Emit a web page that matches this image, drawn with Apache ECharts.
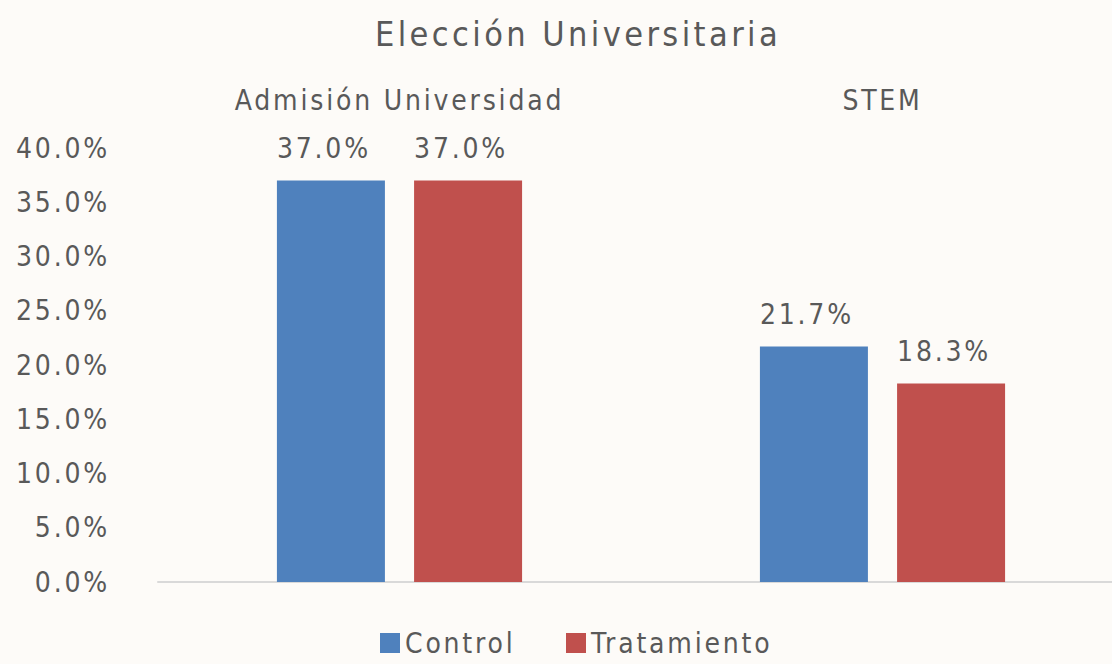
<!DOCTYPE html>
<html>
<head>
<meta charset="utf-8">
<script src="https://cdn.jsdelivr.net/npm/echarts@6/dist/echarts.min.js"></script>
<style>
	html, body { margin: 0; padding: 0; background: #fdfbf8; }
	#chart { width: 1112px; height: 664px; }
	#chart text { letter-spacing: 0.1em; }
</style>
</head>
<body>
<div id="chart"></div>
<script>
const categories = ['Admisión Universidad', 'STEM']
const controlValues = [37.0, 21.7]
const treatmentValues = [37.0, 18.3]
const yTicks = [0, 5, 10, 15, 20, 25, 30, 35, 40]

const FONT = "'DejaVu Sans Condensed', 'Liberation Sans Narrow', sans-serif"
const TEXT = '#595959'

var chart = echarts.init(document.getElementById('chart'), null, { renderer: 'svg' })

var labelStyle = {
	show: true,
	position: 'top',
	distance: 18,
	offset: [-7, 0],
	fontFamily: FONT,
	fontSize: 28,
	color: TEXT,
	formatter: (p) => p.value.toFixed(1) + '%',
}

var option = {
	backgroundColor: '#fdfbf8',
	animation: false,
	title: {
		text: 'Elección Universitaria',
		left: 370,
		top: 12,
		textStyle: { fontFamily: FONT, fontSize: 34, fontWeight: 'normal', color: TEXT },
	},
	legend: {
		top: 624,
		left: 375,
		icon: 'rect',
		itemWidth: 20,
		itemHeight: 20,
		itemGap: 70,
		textStyle: { fontFamily: FONT, fontSize: 28, color: TEXT },
		data: ['Control', 'Tratamiento'],
	},
	grid: { left: 158, top: 148, width: 966, height: 434, outerBoundsMode: 'none' },
	xAxis: [
		{
			type: 'category',
			data: categories,
			position: 'bottom',
			axisLine: { lineStyle: { color: '#d9d9d9', width: 2 } },
			axisTick: { show: false },
			axisLabel: { show: false },
		},
		{
			type: 'category',
			data: categories,
			position: 'top',
			axisLine: { show: false },
			axisTick: { show: false },
			axisLabel: { margin: 34, fontFamily: FONT, fontSize: 28, color: TEXT },
		},
	],
	yAxis: {
		type: 'value',
		min: yTicks[0],
		max: yTicks[yTicks.length - 1],
		interval: 5,
		axisLine: { show: false },
		axisTick: { show: false },
		splitLine: { show: false },
		axisLabel: {
			margin: 48,
			fontFamily: FONT,
			fontSize: 28,
			color: TEXT,
			formatter: (v) => v.toFixed(1) + '%',
		},
	},
	series: [
		{
			name: 'Control',
			type: 'bar',
			xAxisIndex: 0,
			data: controlValues,
			barWidth: 108,
			barGap: '27%',
			itemStyle: { color: '#4f81bd' },
			label: labelStyle,
		},
		{
			name: 'Tratamiento',
			type: 'bar',
			xAxisIndex: 0,
			data: treatmentValues,
			barWidth: 108,
			barGap: '27%',
			itemStyle: { color: '#c0504d' },
			label: labelStyle,
		},
	],
}

chart.setOption(option)
</script>
</body>
</html>
